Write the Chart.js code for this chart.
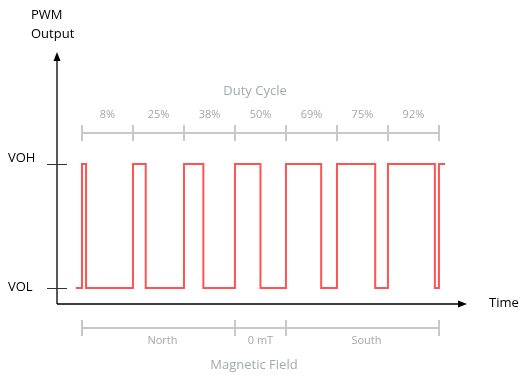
<!DOCTYPE html>
<html>
<head>
<meta charset="utf-8">
<script src="https://cdn.jsdelivr.net/npm/chart.js@4"></script>
<style>
  html, body { margin: 0; padding: 0; background: #fff; }
  #wrap { width: 529px; height: 382px; position: relative; }
</style>
</head>
<body>
<div id="wrap"><canvas id="pwm"></canvas></div>
<script>
// duty cycle of each PWM period (%)
const dutyCycles = [8, 25, 38, 50, 69, 75, 92];
const dutyLabels = ["8%", "25%", "38%", "50%", "69%", "75%", "92%"];
// magnetic field regions, as [start period, end period, label]
const fieldStarts = [0, 3, 4];
const fieldEnds = [3, 4, 7];
const fieldLabels = ["North", "0 mT", "South"];
// signal levels
const levelNames = ["VOL", "VOH"];
const levelValues = [0, 1];
const levelNudge = [-1, -6]; // label offset from tick, px
// lead-in before first period and tail after last period (in periods)
const leadIn = -0.12;
const tailOut = 0.12;

// build the square wave from the duty cycles
const wave = [{ x: leadIn, y: 0 }];
dutyCycles.forEach((d, i) => {
  wave.push({ x: i, y: 0 });
  wave.push({ x: i, y: 1 });
  wave.push({ x: i + d / 100, y: 1 });
  wave.push({ x: i + d / 100, y: 0 });
});
const last = dutyCycles.length;
wave.push({ x: last, y: 0 });
wave.push({ x: last, y: 1 });
wave.push({ x: last + tailOut, y: 1 });

const FONT = "'Open Sans', 'Noto Sans', sans-serif";

const drawExtras = {
  id: "drawExtras",
  afterDraw(chart) {
    const ctx = chart.ctx;
    const xs = chart.scales.x;
    const ys = chart.scales.y;
    const area = chart.chartArea;
    const x0 = area.left, y0 = area.bottom;

    ctx.save();
    // axes
    ctx.strokeStyle = "#000";
    ctx.fillStyle = "#000";
    ctx.lineWidth = 1.3;
    ctx.beginPath();
    ctx.moveTo(x0, y0);
    ctx.lineTo(x0, area.top + 6);
    ctx.moveTo(x0, y0);
    ctx.lineTo(area.right - 6, y0);
    ctx.stroke();
    // arrow heads
    ctx.beginPath();
    ctx.moveTo(x0, area.top);
    ctx.lineTo(x0 - 3.5, area.top + 9);
    ctx.lineTo(x0 + 3.5, area.top + 9);
    ctx.closePath();
    ctx.fill();
    ctx.beginPath();
    ctx.moveTo(area.right, y0);
    ctx.lineTo(area.right - 9, y0 - 3.5);
    ctx.lineTo(area.right - 9, y0 + 3.5);
    ctx.closePath();
    ctx.fill();

    // level ticks and names
    ctx.lineWidth = 1;
    ctx.strokeStyle = "#333";
    ctx.font = "13px " + FONT;
    ctx.textBaseline = "middle";
    ctx.textAlign = "left";
    levelValues.forEach((v, i) => {
      const py = Math.round(ys.getPixelForValue(v)) + 0.5;
      ctx.beginPath();
      ctx.moveTo(x0 - 10, py);
      ctx.lineTo(x0 + 10, py);
      ctx.stroke();
      ctx.fillStyle = "#000";
      ctx.fillText(levelNames[i], 8, py + levelNudge[i]);
    });

    // axis titles
    ctx.textBaseline = "alphabetic";
    ctx.fillText("PWM", 31, 19);
    ctx.fillText("Output", 31, 38);
    ctx.fillText("Time", 489, y0 + 3);

    // duty cycle bracket
    const bracket = (py, starts) => {
      ctx.strokeStyle = "#c8c8c8";
      ctx.lineWidth = 2;
      ctx.beginPath();
      ctx.moveTo(xs.getPixelForValue(starts[0]), py);
      ctx.lineTo(xs.getPixelForValue(starts[starts.length - 1]), py);
      starts.forEach(s => {
        const px = Math.round(xs.getPixelForValue(s));
        ctx.moveTo(px, py - 8);
        ctx.lineTo(px, py + 8);
      });
      ctx.stroke();
    };
    const dutyEdges = dutyCycles.map((d, i) => i).concat([last]);
    bracket(133, dutyEdges);
    ctx.fillStyle = "#a6a6a6";
    ctx.font = "11px " + FONT;
    ctx.textAlign = "center";
    ctx.textBaseline = "middle";
    dutyLabels.forEach((l, i) => {
      ctx.fillText(l, xs.getPixelForValue(i + 0.5), 115);
    });
    ctx.font = "13px " + FONT;
    ctx.fillStyle = "#a4a9b0";
    ctx.fillText("Duty Cycle", 255, 91);

    // magnetic field bracket
    bracket(328, fieldStarts.concat([fieldEnds[fieldEnds.length - 1]]));
    ctx.fillStyle = "#a6a6a6";
    ctx.font = "11px " + FONT;
    fieldLabels.forEach((l, i) => {
      const mid = (fieldStarts[i] + fieldEnds[i]) / 2;
      ctx.fillText(l, xs.getPixelForValue(mid) + (i === 1 ? 0 : 4), 341);
    });
    ctx.font = "13px " + FONT;
    ctx.fillStyle = "#a4a9b0";
    ctx.fillText("Magnetic Field", 254, 365);
    ctx.restore();
  }
};

new Chart(document.getElementById("pwm"), {
  type: "line",
  data: {
    datasets: [{
      data: wave,
      borderColor: "rgba(255, 40, 40, 0.8)",
      borderWidth: 2,
      pointRadius: 0,
      tension: 0,
      fill: false
    }]
  },
  options: {
    responsive: true,
    maintainAspectRatio: false,
    animation: false,
    layout: { padding: { left: 57, right: 62, top: 52, bottom: 78 } },
    plugins: { legend: { display: false }, tooltip: { enabled: false } },
    scales: {
      x: { type: "linear", display: false, min: -0.49, max: 7.55 },
      y: { type: "linear", display: false, min: -0.129, max: 1.903 }
    }
  },
  plugins: [drawExtras]
});
</script>
</body>
</html>
